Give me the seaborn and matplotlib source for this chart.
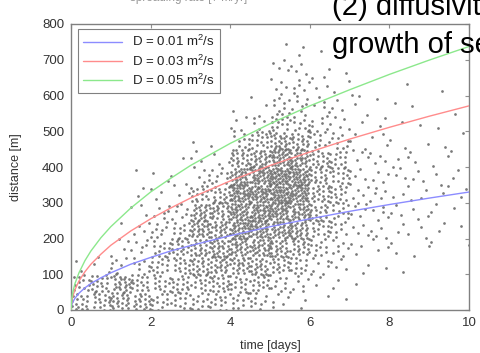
import numpy as np
import pandas as pd
import matplotlib
matplotlib.use("Agg")
import matplotlib.pyplot as plt
import seaborn as sns

# ---------------- data ----------------
# theoretical curves (distance in m at given time in days)
curve_time = [0, 0.02, 0.05, 0.1, 0.2, 0.35, 0.5, 0.75, 1, 1.5, 2, 2.5, 3, 4, 5, 6, 7, 8, 9, 10]
dist_D001 = [0, 15, 23, 33, 47, 62, 74, 90, 104, 128, 147, 165, 180, 208, 233, 255, 276, 295, 313, 330]
dist_D003 = [0, 26, 40, 57, 81, 107, 128, 156, 181, 221, 255, 285, 313, 361, 404, 442, 478, 511, 542, 571]
dist_D005 = [0, 33, 52, 74, 104, 138, 165, 202, 233, 285, 330, 368, 404, 466, 521, 571, 616, 659, 699, 737]
curve_labels = [r"D = 0.01 m$^2$/s", r"D = 0.03 m$^2$/s", r"D = 0.05 m$^2$/s"]

# event density: counts per (0.5 day x 50 m) cell
time_edges = [i * 0.5 for i in range(21)]
dist_edges = list(range(0, 801, 50))
# rows: time bins 0-0.5 ... 9.5-10 ; columns: distance bins 0-50 ... 750-800
event_counts = [
    [18, 12, 2, 0, 0, 0, 0, 0, 0, 0, 0, 0, 0, 0, 0, 0],
    [18, 17, 3, 1, 0, 0, 0, 0, 0, 0, 0, 0, 0, 0, 0, 0],
    [22, 25, 6, 3, 1, 0, 0, 0, 0, 0, 0, 0, 0, 0, 0, 0],
    [20, 16, 8, 6, 4, 3, 2, 1, 0, 0, 0, 0, 0, 0, 0, 0],
    [12, 14, 14, 12, 9, 6, 3, 2, 0, 0, 0, 0, 0, 0, 0, 0],
    [13, 16, 16, 18, 12, 7, 3, 2, 1, 0, 0, 0, 0, 0, 0, 0],
    [12, 16, 20, 24, 28, 26, 16, 6, 3, 1, 0, 0, 0, 0, 0, 0],
    [13, 19, 25, 26, 27, 24, 19, 9, 3, 1, 0, 0, 0, 0, 0, 0],
    [10, 15, 22, 30, 38, 40, 42, 35, 22, 10, 4, 1, 0, 0, 0, 0],
    [10, 15, 23, 30, 37, 40, 43, 40, 28, 15, 6, 2, 0, 0, 0, 0],
    [5, 9, 17, 25, 32, 40, 48, 48, 38, 25, 14, 8, 5, 4, 1, 0],
    [3, 6, 13, 20, 28, 35, 42, 42, 32, 20, 11, 7, 6, 4, 2, 0],
    [1, 3, 6, 11, 15, 18, 20, 20, 17, 11, 7, 5, 3, 2, 1, 0],
    [1, 2, 4, 7, 10, 12, 15, 15, 13, 9, 5, 3, 2, 1, 0, 0],
    [0, 1, 2, 3, 4, 5, 5, 5, 4, 3, 2, 2, 1, 0, 0, 0],
    [0, 0, 1, 3, 4, 5, 5, 4, 4, 3, 2, 1, 0, 0, 0, 0],
    [0, 0, 1, 2, 3, 3, 3, 3, 3, 2, 1, 1, 1, 0, 0, 0],
    [0, 0, 0, 2, 2, 3, 3, 3, 2, 1, 1, 1, 0, 0, 0, 0],
    [0, 0, 0, 1, 2, 2, 2, 2, 2, 1, 1, 0, 1, 0, 0, 0],
    [0, 0, 0, 1, 1, 1, 2, 2, 1, 1, 1, 0, 0, 0, 0, 0],
]

# ---------------- build tables ----------------
# spread each cell's events evenly over the cell (deterministic low-discrepancy layout)
g = 1.32471795724474602596
a1, a2 = 1.0 / g, 1.0 / g ** 2
ts, ds = [], []
for i, row in enumerate(event_counts):
    for j, n in enumerate(row):
        off = (i * 16 + j) * 0.618034
        for k in range(n):
            u = (0.5 + off + (k + 1) * a1) % 1.0
            v = (0.5 + off * 1.7 + (k + 1) * a2) % 1.0
            ts.append(time_edges[i] + u * (time_edges[i + 1] - time_edges[i]))
            ds.append(dist_edges[j] + v * (dist_edges[j + 1] - dist_edges[j]))
events = pd.DataFrame({"time": ts, "distance": ds})

curves = pd.concat([
    pd.DataFrame({"time": curve_time, "distance": d, "label": lab})
    for d, lab in zip([dist_D001, dist_D003, dist_D005], curve_labels)
])

# ---------------- plot ----------------
sns.set_style("white")
plt.rcParams["font.family"] = ["Liberation Sans", "DejaVu Sans"]
plt.rcParams["mathtext.fontset"] = "custom"
plt.rcParams["mathtext.rm"] = "Liberation Sans"

fig = plt.figure(figsize=(4.81, 3.53), dpi=100)
ax = fig.add_axes([71 / 481, 1 - 310 / 353, 398 / 481, 286 / 353])

sns.scatterplot(data=events, x="time", y="distance", ax=ax, s=3.8, color="#6a6a6a",
                linewidth=0, alpha=0.9, legend=False, zorder=2)
sns.lineplot(data=curves, x="time", y="distance", hue="label", ax=ax,
             palette=["#8c8cff", "#ff8c8c", "#8ce88c"], linewidth=1.0,
             sort=False, zorder=3)

ax.set_xlim(0, 10)
ax.set_ylim(0, 800)
ax.set_xticks(range(0, 11, 2))
ax.set_yticks(range(0, 801, 100))
ax.set_xlabel("time [days]", fontsize=9, color="#333333", labelpad=8)
ax.set_ylabel("distance [m]", fontsize=9, color="#333333", labelpad=14)
ax.tick_params(direction="in", length=3, width=0.8, color="#909090",
               labelsize=9.5, labelcolor="#333333", top=True, right=True, pad=5)
for sp in ax.spines.values():
    sp.set_color("#808080")
    sp.set_linewidth(1.0)

leg = ax.legend(loc="upper left", bbox_to_anchor=(0.0176, 0.9825), borderaxespad=0,
                fontsize=9.5, handlelength=2.9, frameon=True, fancybox=False,
                framealpha=1, edgecolor="#808080", labelspacing=0.3,
                handletextpad=0.8, borderpad=0.4)
leg.get_frame().set_linewidth(0.8)
for t in leg.get_texts():
    t.set_color("#222222")

# clipped slide texts around the chart
fig.text(189 / 481, 1 - 1.5 / 353, "spreading rate [? m/yr]", ha="center", va="baseline",
         fontsize=8.5, color="#999999")
fig.text(332 / 481, 1 - 15 / 353, "(2) diffusivity", ha="left", va="baseline",
         fontsize=21, color="black")
fig.text(332 / 481, 1 - 53 / 353, "growth of seismicity", ha="left", va="baseline",
         fontsize=21, color="black")

fig.savefig("out.png", dpi=100)
